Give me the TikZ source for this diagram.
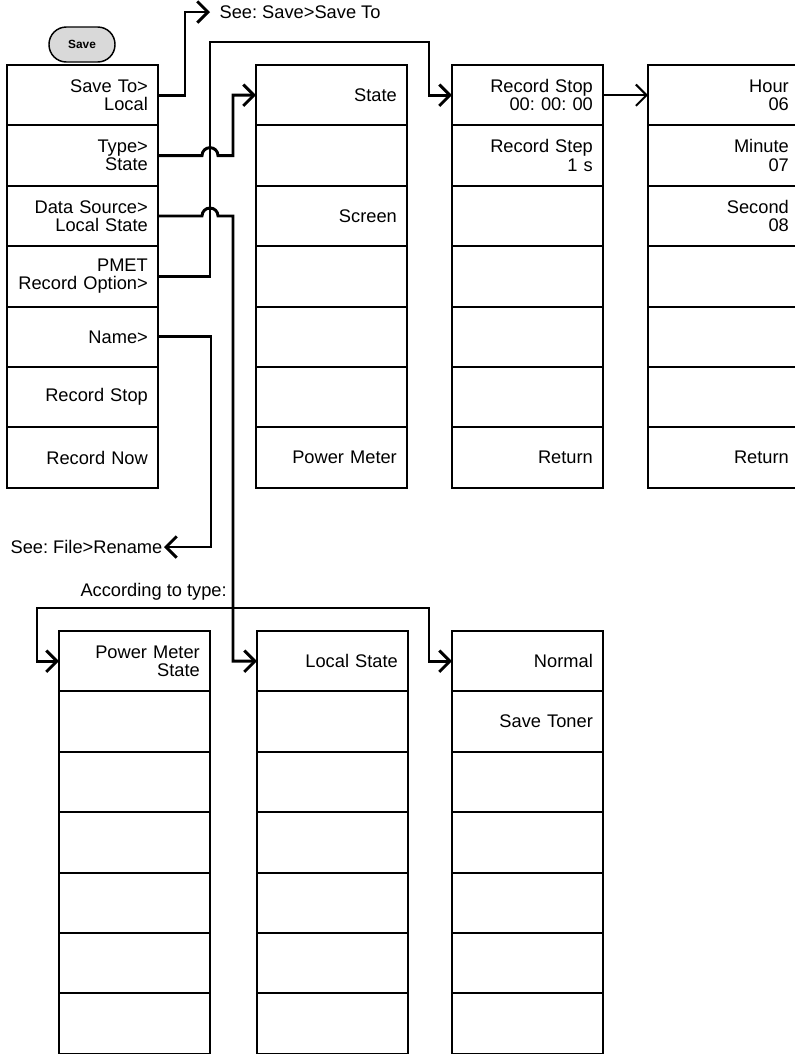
\documentclass[tikz,border=0pt]{standalone}
\usepackage{fontspec}
\setmainfont{Liberation Sans}
\usetikzlibrary{arrows.meta,positioning}
\definecolor{keygray}{RGB}{217,217,217}

\begin{document}
\frenchspacing
\begin{tikzpicture}[
  x=0.75pt, y=-0.75pt,
  node distance=0pt,
  >={Straight Barb[length=8pt,width=16pt]},
  key/.style={rectangle, draw, line width=1.4pt, outer sep=0pt, minimum width=113.25pt, minimum height=45.3pt, text width=98pt, inner xsep=7.6pt, inner ysep=0pt, align=right, font=\fontsize{13.7}{13.8}\selectfont},
  hardkey/.style={rectangle, rounded corners=13pt, draw, line width=1.1pt, fill=keygray, minimum width=49.5pt, minimum height=26.25pt, font=\bfseries\fontsize{8.9}{10}\selectfont},
  note/.style={inner sep=1pt, font=\fontsize{13.7}{13.8}\selectfont},
  conn/.style={->, line width=2.2pt}
]
\useasboundingbox (0,0) rectangle (794,1054);

\node[hardkey] (save) at (82,44.5) {Save};

% Save menu
\node[key, anchor=north west] (saveto) at (7,65) {Save To>\\Local};
\node[key, below=of saveto] (type) {Type>\\State};
\node[key, below=of type] (source) {Data Source>\\Local State};
\node[key, below=of source] (pmet) {PMET\\Record Option>};
\node[key, below=of pmet] (name) {Name>};
\node[key, below=of name] (stop) {Record Stop};
\node[key, below=of stop] (now) {Record Now};

% Type
\node[key, anchor=north west] (state) at (256,65) {State};
\node[key, below=of state] (typeb) {};
\node[key, below=of typeb] (screen) {Screen};
\node[key, below=of screen] (typed) {};
\node[key, below=of typed] (typee) {};
\node[key, below=of typee] (typef) {};
\node[key, below=of typef] (powermeter) {Power Meter};

% PMET record option
\node[key, anchor=north west] (recordstop) at (452,65) {Record Stop\\00: 00: 00};
\node[key, below=of recordstop] (recordstep) {Record Step\\1 s};
\node[key, below=of recordstep] (optc) {};
\node[key, below=of optc] (optd) {};
\node[key, below=of optd] (opte) {};
\node[key, below=of opte] (optf) {};
\node[key, below=of optf] (optreturn) {Return};

% Record stop time
\node[key, anchor=north west] (hour) at (648,65) {Hour\\06};
\node[key, below=of hour] (minute) {Minute\\07};
\node[key, below=of minute] (second) {Second\\08};
\node[key, below=of second] (timed) {};
\node[key, below=of timed] (timee) {};
\node[key, below=of timee] (timef) {};
\node[key, below=of timef] (timereturn) {Return};

% Data source, according to type
\node[key, anchor=north west] (pmstate) at (59,631) {Power Meter\\State};
\node[key, below=of pmstate] (pmb) {};
\node[key, below=of pmb] (pmc) {};
\node[key, below=of pmc] (pmd) {};
\node[key, below=of pmd] (pme) {};
\node[key, below=of pme] (pmf) {};
\node[key, below=of pmf] (pmg) {};

\node[key, anchor=north west] (localstate) at (257,631) {Local State};
\node[key, below=of localstate] (lsb) {};
\node[key, below=of lsb] (lsc) {};
\node[key, below=of lsc] (lsd) {};
\node[key, below=of lsd] (lse) {};
\node[key, below=of lse] (lsf) {};
\node[key, below=of lsf] (lsg) {};

\node[key, anchor=north west] (normal) at (452,631) {Normal};
\node[key, below=of normal] (savetoner) {Save Toner};
\node[key, below=of savetoner] (tonc) {};
\node[key, below=of tonc] (tond) {};
\node[key, below=of tond] (tone) {};
\node[key, below=of tone] (tonf) {};
\node[key, below=of tonf] (tong) {};

% notes
\node[note, anchor=west, inner xsep=7pt] (seesave) at (210,12) {See: Save>Save To};
\node[note, anchor=east] (rename) at (164,547) {See: File>Rename};
\node[note, anchor=east, inner sep=0pt] (bytype) at (227,592) {According to type:};

% connectors
\draw[conn] (saveto.east) -- ++(27,0) |- (seesave.west);
\draw[conn] (pmet.east) -| (210,42) -- (429,42) |- (recordstop.west);
\draw[conn] (type.east) -- ++(44,0) arc[start angle=180, end angle=0, radius=6pt] -- ++(15,0) |- (state.west);
\draw[conn] (source.east) -- ++(44,0) arc[start angle=180, end angle=0, radius=6pt] -- ++(15,0) |- (localstate.west);
\draw[conn] (name.east) -- ++(53,0) |- (rename.east);
\draw[conn, line width=1.5pt] (recordstop.east) -- (hour.west);
\draw[conn, <->] (pmstate.west) -- ++(-22,0) |- (429,608) |- (normal.west);
\end{tikzpicture}
\end{document}
